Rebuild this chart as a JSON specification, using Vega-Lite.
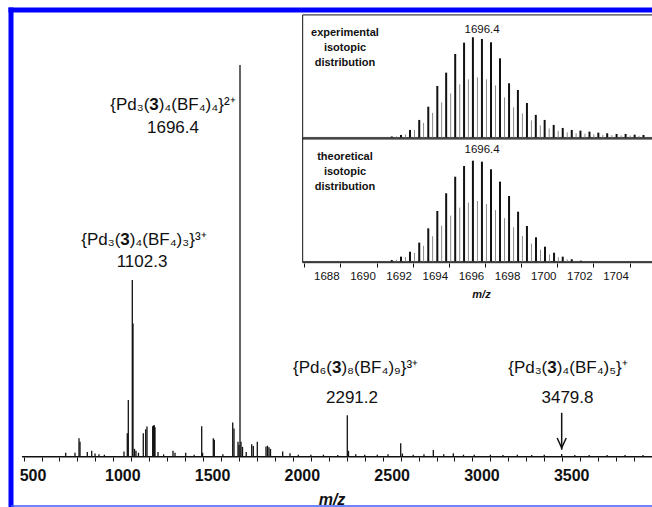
{
  "$schema": "https://vega.github.io/schema/vega-lite/v6.json",
  "width": 641,
  "height": 496,
  "padding": {"left": 11, "top": 10, "right": 0, "bottom": 1},
  "autosize": {"type": "none"},
  "background": "white",
  "config": {"view": {"stroke": null}, "axisY": {"disable": true}, "axis": {"labelOverlap": false}, "font": "Liberation Sans"},
  "data": {"values": [{}]},
  "datasets": {
    "spectrum": [
      {"mz": 684.6, "intensity": 1.0}, {"mz": 736.4, "intensity": 1.0}, {"mz": 758.7, "intensity": 4.7}, {"mz": 764.3, "intensity": 3.8},
      {"mz": 805, "intensity": 1.2}, {"mz": 829.5, "intensity": 1.5}, {"mz": 848, "intensity": 0.8}, {"mz": 870, "intensity": 0.6},
      {"mz": 900, "intensity": 0.5}, {"mz": 1009.4, "intensity": 1.3}, {"mz": 1027.7, "intensity": 6}, {"mz": 1033.3, "intensity": 14.5},
      {"mz": 1055.6, "intensity": 45.1}, {"mz": 1059.5, "intensity": 34}, {"mz": 1067.8, "intensity": 2}, {"mz": 1076, "intensity": 1.5},
      {"mz": 1090, "intensity": 1.0}, {"mz": 1116.8, "intensity": 6}, {"mz": 1130.2, "intensity": 7}, {"mz": 1137.4, "intensity": 7.7},
      {"mz": 1169.2, "intensity": 7.8}, {"mz": 1173.7, "intensity": 8}, {"mz": 1178.1, "intensity": 8}, {"mz": 1182, "intensity": 7.5},
      {"mz": 1198.7, "intensity": 1.2}, {"mz": 1230, "intensity": 0.6}, {"mz": 1282.3, "intensity": 1.5}, {"mz": 1293.4, "intensity": 1},
      {"mz": 1353, "intensity": 1}, {"mz": 1400, "intensity": 0.5}, {"mz": 1442.1, "intensity": 7.8}, {"mz": 1447, "intensity": 1.0},
      {"mz": 1506.7, "intensity": 4.7}, {"mz": 1512.3, "intensity": 4.3}, {"mz": 1560, "intensity": 0.6}, {"mz": 1614.8, "intensity": 8.7},
      {"mz": 1622, "intensity": 7.2}, {"mz": 1644.3, "intensity": 3.8}, {"mz": 1649.9, "intensity": 3}, {"mz": 1655.4, "intensity": 100},
      {"mz": 1661, "intensity": 3.8}, {"mz": 1669.3, "intensity": 2.5}, {"mz": 1690, "intensity": 1.2}, {"mz": 1720.6, "intensity": 3.2},
      {"mz": 1729.5, "intensity": 2.7}, {"mz": 1751.8, "intensity": 3.8}, {"mz": 1800.2, "intensity": 2.6}, {"mz": 1808.6, "intensity": 2.8},
      {"mz": 1816.9, "intensity": 2.4}, {"mz": 1825.3, "intensity": 2}, {"mz": 1893.2, "intensity": 1.3}, {"mz": 1933.9, "intensity": 0.9},
      {"mz": 1980, "intensity": 0.5}, {"mz": 2050, "intensity": 0.5}, {"mz": 2120, "intensity": 0.5}, {"mz": 2200, "intensity": 0.4},
      {"mz": 2253, "intensity": 10.6}, {"mz": 2259.7, "intensity": 1.5}, {"mz": 2300, "intensity": 0.6}, {"mz": 2350, "intensity": 0.5},
      {"mz": 2420, "intensity": 0.5}, {"mz": 2480, "intensity": 0.6}, {"mz": 2550.4, "intensity": 3.4}, {"mz": 2560, "intensity": 0.8},
      {"mz": 2620, "intensity": 0.5}, {"mz": 2680, "intensity": 0.6}, {"mz": 2732, "intensity": 1.7}, {"mz": 2790, "intensity": 0.6},
      {"mz": 2843.4, "intensity": 0.9}, {"mz": 2900, "intensity": 0.5}, {"mz": 2960, "intensity": 0.5}, {"mz": 3050, "intensity": 0.5},
      {"mz": 3120, "intensity": 0.4}, {"mz": 3200, "intensity": 0.5}, {"mz": 3280, "intensity": 0.4}, {"mz": 3350, "intensity": 0.5},
      {"mz": 3447, "intensity": 0.7}, {"mz": 3520, "intensity": 0.4}, {"mz": 3600, "intensity": 0.4}, {"mz": 3700, "intensity": 0.4},
      {"mz": 3800, "intensity": 0.4}, {"mz": 3900, "intensity": 0.4}
    ],
    "inset": [
      {"panel": "experimental", "set": "A", "m": 1691.84, "h": 1.0}, {"panel": "experimental", "set": "A", "m": 1692.35, "h": 2.5},
      {"panel": "experimental", "set": "A", "m": 1692.85, "h": 7.5}, {"panel": "experimental", "set": "A", "m": 1693.36, "h": 17.5},
      {"panel": "experimental", "set": "A", "m": 1693.86, "h": 30.7}, {"panel": "experimental", "set": "A", "m": 1694.36, "h": 51.4},
      {"panel": "experimental", "set": "A", "m": 1694.85, "h": 64.7}, {"panel": "experimental", "set": "A", "m": 1695.35, "h": 83.3},
      {"panel": "experimental", "set": "A", "m": 1695.84, "h": 94.6}, {"panel": "experimental", "set": "A", "m": 1696.33, "h": 100},
      {"panel": "experimental", "set": "A", "m": 1696.83, "h": 98.3}, {"panel": "experimental", "set": "A", "m": 1697.33, "h": 95},
      {"panel": "experimental", "set": "A", "m": 1697.83, "h": 79}, {"panel": "experimental", "set": "A", "m": 1698.33, "h": 54.1},
      {"panel": "experimental", "set": "A", "m": 1698.82, "h": 47.4}, {"panel": "experimental", "set": "A", "m": 1699.32, "h": 34.4},
      {"panel": "experimental", "set": "A", "m": 1699.81, "h": 22.5}, {"panel": "experimental", "set": "A", "m": 1700.3, "h": 17.5},
      {"panel": "experimental", "set": "A", "m": 1700.8, "h": 12.5}, {"panel": "experimental", "set": "A", "m": 1701.3, "h": 9.5},
      {"panel": "experimental", "set": "A", "m": 1701.8, "h": 7.5}, {"panel": "experimental", "set": "A", "m": 1702.28, "h": 6.8},
      {"panel": "experimental", "set": "A", "m": 1702.78, "h": 5.8}, {"panel": "experimental", "set": "A", "m": 1703.27, "h": 4.8},
      {"panel": "experimental", "set": "A", "m": 1703.76, "h": 4.2}, {"panel": "experimental", "set": "A", "m": 1704.28, "h": 3.5},
      {"panel": "experimental", "set": "A", "m": 1704.78, "h": 3.5}, {"panel": "experimental", "set": "A", "m": 1705.28, "h": 2.8},
      {"panel": "experimental", "set": "A", "m": 1705.77, "h": 2.5},
      {"panel": "experimental", "set": "B", "m": 1692.1, "h": 1.0}, {"panel": "experimental", "set": "B", "m": 1692.6, "h": 3.0},
      {"panel": "experimental", "set": "B", "m": 1693.1, "h": 7.5}, {"panel": "experimental", "set": "B", "m": 1693.6, "h": 14.5},
      {"panel": "experimental", "set": "B", "m": 1694.1, "h": 24.5}, {"panel": "experimental", "set": "B", "m": 1694.6, "h": 35},
      {"panel": "experimental", "set": "B", "m": 1695.1, "h": 44}, {"panel": "experimental", "set": "B", "m": 1695.6, "h": 53},
      {"panel": "experimental", "set": "B", "m": 1696.08, "h": 58}, {"panel": "experimental", "set": "B", "m": 1696.58, "h": 60},
      {"panel": "experimental", "set": "B", "m": 1697.08, "h": 58}, {"panel": "experimental", "set": "B", "m": 1697.58, "h": 52},
      {"panel": "experimental", "set": "B", "m": 1698.08, "h": 40}, {"panel": "experimental", "set": "B", "m": 1698.58, "h": 30},
      {"panel": "experimental", "set": "B", "m": 1699.07, "h": 24}, {"panel": "experimental", "set": "B", "m": 1699.57, "h": 17},
      {"panel": "experimental", "set": "B", "m": 1700.06, "h": 12}, {"panel": "experimental", "set": "B", "m": 1700.55, "h": 9},
      {"panel": "experimental", "set": "B", "m": 1701.05, "h": 6.6}, {"panel": "experimental", "set": "B", "m": 1701.55, "h": 5.1},
      {"panel": "experimental", "set": "B", "m": 1702.04, "h": 4.3}, {"panel": "experimental", "set": "B", "m": 1702.53, "h": 3.8},
      {"panel": "experimental", "set": "B", "m": 1703.02, "h": 3.2}, {"panel": "experimental", "set": "B", "m": 1703.52, "h": 2.7},
      {"panel": "experimental", "set": "B", "m": 1704.02, "h": 2.3}, {"panel": "experimental", "set": "B", "m": 1704.53, "h": 2.1},
      {"panel": "experimental", "set": "B", "m": 1705.03, "h": 1.9}, {"panel": "experimental", "set": "B", "m": 1705.52, "h": 1.6},
      {"panel": "theoretical", "set": "A", "m": 1691.84, "h": 1.5}, {"panel": "theoretical", "set": "A", "m": 1692.35, "h": 4.8},
      {"panel": "theoretical", "set": "A", "m": 1692.85, "h": 9.7}, {"panel": "theoretical", "set": "A", "m": 1693.36, "h": 18.7},
      {"panel": "theoretical", "set": "A", "m": 1693.86, "h": 32.9}, {"panel": "theoretical", "set": "A", "m": 1694.36, "h": 50.1},
      {"panel": "theoretical", "set": "A", "m": 1694.85, "h": 67.7}, {"panel": "theoretical", "set": "A", "m": 1695.35, "h": 84.1},
      {"panel": "theoretical", "set": "A", "m": 1695.84, "h": 94.7}, {"panel": "theoretical", "set": "A", "m": 1696.33, "h": 100},
      {"panel": "theoretical", "set": "A", "m": 1696.83, "h": 99}, {"panel": "theoretical", "set": "A", "m": 1697.33, "h": 91.5},
      {"panel": "theoretical", "set": "A", "m": 1697.83, "h": 79.2}, {"panel": "theoretical", "set": "A", "m": 1698.33, "h": 65},
      {"panel": "theoretical", "set": "A", "m": 1698.83, "h": 49.4}, {"panel": "theoretical", "set": "A", "m": 1699.32, "h": 35.2},
      {"panel": "theoretical", "set": "A", "m": 1699.82, "h": 24}, {"panel": "theoretical", "set": "A", "m": 1700.32, "h": 14.7},
      {"panel": "theoretical", "set": "A", "m": 1700.82, "h": 8.7}, {"panel": "theoretical", "set": "A", "m": 1701.3, "h": 4.8},
      {"panel": "theoretical", "set": "A", "m": 1701.8, "h": 2.2}, {"panel": "theoretical", "set": "A", "m": 1702.3, "h": 0.8},
      {"panel": "theoretical", "set": "B", "m": 1692.1, "h": 1.8}, {"panel": "theoretical", "set": "B", "m": 1692.6, "h": 4.3},
      {"panel": "theoretical", "set": "B", "m": 1693.1, "h": 8.5}, {"panel": "theoretical", "set": "B", "m": 1693.6, "h": 15.5},
      {"panel": "theoretical", "set": "B", "m": 1694.1, "h": 25}, {"panel": "theoretical", "set": "B", "m": 1694.6, "h": 35.5},
      {"panel": "theoretical", "set": "B", "m": 1695.1, "h": 45.5}, {"panel": "theoretical", "set": "B", "m": 1695.6, "h": 53.5},
      {"panel": "theoretical", "set": "B", "m": 1696.08, "h": 58.5}, {"panel": "theoretical", "set": "B", "m": 1696.58, "h": 60},
      {"panel": "theoretical", "set": "B", "m": 1697.08, "h": 57}, {"panel": "theoretical", "set": "B", "m": 1697.58, "h": 51},
      {"panel": "theoretical", "set": "B", "m": 1698.08, "h": 43}, {"panel": "theoretical", "set": "B", "m": 1698.58, "h": 34},
      {"panel": "theoretical", "set": "B", "m": 1699.07, "h": 25.4}, {"panel": "theoretical", "set": "B", "m": 1699.57, "h": 17.8},
      {"panel": "theoretical", "set": "B", "m": 1700.07, "h": 11.6}, {"panel": "theoretical", "set": "B", "m": 1700.57, "h": 7},
      {"panel": "theoretical", "set": "B", "m": 1701.06, "h": 4.1}, {"panel": "theoretical", "set": "B", "m": 1701.55, "h": 2.1}
    ]
  },
  "layer": [
    {
      "layer": [
        {
          "data": {"name": "spectrum"},
          "mark": {"type": "rule", "strokeWidth": 1.3, "color": "#111"},
          "encoding": {
            "x": {"field": "mz", "type": "quantitative",
              "scale": {"domain": [380, 3950], "nice": false, "zero": false},
              "axis": {"orient": "bottom", "offset": -49, "domain": false, "ticks": false, "tickSize": 0,
                "values": [500, 1000, 1500, 2000, 2500, 3000, 3500], "format": "d",
                "labelFont": "Liberation Sans", "labelFontWeight": "bold", "labelFontSize": 16,
                "labelColor": "#111", "labelPadding": 10, "labelOverlap": false, "labelFlush": false, "grid": false,
                "title": "m/z", "titleFont": "Liberation Sans", "titleFontStyle": "italic", "titleFontWeight": "bold",
                "titleFontSize": 16, "titleColor": "#111", "titlePadding": 8}},
            "y": {"field": "intensity", "type": "quantitative",
              "scale": {"domain": [-12.59, 114.04], "nice": false, "zero": false}},
            "y2": {"datum": 0}
          }
        },
        {"mark": {"type": "rule", "strokeWidth": 5, "color": "#0000ff", "strokeCap": "square"},
          "encoding": {"x": {"datum": 380}}},
        {"mark": {"type": "rule", "strokeWidth": 5, "color": "#0000ff", "strokeCap": "square"},
          "encoding": {"y": {"datum": 114.04}}},
        {"mark": {"type": "rule", "strokeWidth": 1.5, "color": "#3a5cff"},
          "encoding": {"y": {"datum": -12.59}}},

        {"mark": {"type": "text", "align": "right", "dx": -4.7, "baseline": "alphabetic", "fontSize": 17, "color": "#111"},
          "encoding": {"x": {"datum": 1176.4}, "y": {"datum": 88.5}, "text": {"value": "{Pd₃("}}},
        {"mark": {"type": "text", "align": "center", "baseline": "alphabetic", "fontSize": 17, "fontWeight": "bold", "color": "#111"},
          "encoding": {"x": {"datum": 1176.4}, "y": {"datum": 88.5}, "text": {"value": "3"}}},
        {"mark": {"type": "text", "align": "left", "dx": 4.7, "baseline": "alphabetic", "fontSize": 17, "color": "#111"},
          "encoding": {"x": {"datum": 1176.4}, "y": {"datum": 88.5}, "text": {"value": ")₄(BF₄)₄}²⁺"}}},
        {"mark": {"type": "text", "align": "center", "baseline": "alphabetic", "fontSize": 17, "color": "#111"},
          "encoding": {"x": {"datum": 1282.3}, "y": {"datum": 82.6}, "text": {"value": "1696.4"}}},

        {"mark": {"type": "text", "align": "right", "dx": -4.7, "baseline": "alphabetic", "fontSize": 17, "color": "#111"},
          "encoding": {"x": {"datum": 1014.9}, "y": {"datum": 54.0}, "text": {"value": "{Pd₃("}}},
        {"mark": {"type": "text", "align": "center", "baseline": "alphabetic", "fontSize": 17, "fontWeight": "bold", "color": "#111"},
          "encoding": {"x": {"datum": 1014.9}, "y": {"datum": 54.0}, "text": {"value": "3"}}},
        {"mark": {"type": "text", "align": "left", "dx": 4.7, "baseline": "alphabetic", "fontSize": 17, "color": "#111"},
          "encoding": {"x": {"datum": 1014.9}, "y": {"datum": 54.0}, "text": {"value": ")₄(BF₄)₃}³⁺"}}},
        {"mark": {"type": "text", "align": "center", "baseline": "alphabetic", "fontSize": 17, "color": "#111"},
          "encoding": {"x": {"datum": 1109.6}, "y": {"datum": 48.5}, "text": {"value": "1102.3"}}},

        {"mark": {"type": "text", "align": "right", "dx": -4.7, "baseline": "alphabetic", "fontSize": 17, "color": "#111"},
          "encoding": {"x": {"datum": 2194}, "y": {"datum": 21.4}, "text": {"value": "{Pd₆("}}},
        {"mark": {"type": "text", "align": "center", "baseline": "alphabetic", "fontSize": 17, "fontWeight": "bold", "color": "#111"},
          "encoding": {"x": {"datum": 2194}, "y": {"datum": 21.4}, "text": {"value": "3"}}},
        {"mark": {"type": "text", "align": "left", "dx": 4.7, "baseline": "alphabetic", "fontSize": 17, "color": "#111"},
          "encoding": {"x": {"datum": 2194}, "y": {"datum": 21.4}, "text": {"value": ")₈(BF₄)₉}³⁺"}}},
        {"mark": {"type": "text", "align": "center", "baseline": "alphabetic", "fontSize": 17, "color": "#111"},
          "encoding": {"x": {"datum": 2279.2}, "y": {"datum": 13.6}, "text": {"value": "2291.2"}}},

        {"mark": {"type": "text", "align": "right", "dx": -4.7, "baseline": "alphabetic", "fontSize": 17, "color": "#111"},
          "encoding": {"x": {"datum": 3393}, "y": {"datum": 21.4}, "text": {"value": "{Pd₃("}}},
        {"mark": {"type": "text", "align": "center", "baseline": "alphabetic", "fontSize": 17, "fontWeight": "bold", "color": "#111"},
          "encoding": {"x": {"datum": 3393}, "y": {"datum": 21.4}, "text": {"value": "3"}}},
        {"mark": {"type": "text", "align": "left", "dx": 4.7, "baseline": "alphabetic", "fontSize": 17, "color": "#111"},
          "encoding": {"x": {"datum": 3393}, "y": {"datum": 21.4}, "text": {"value": ")₄(BF₄)₅}⁺"}}},
        {"mark": {"type": "text", "align": "center", "baseline": "alphabetic", "fontSize": 17, "color": "#111"},
          "encoding": {"x": {"datum": 3479.4}, "y": {"datum": 13.6}, "text": {"value": "3479.8"}}},

        {"mark": {"type": "rule", "strokeWidth": 1.5, "color": "#111"},
          "encoding": {"x": {"datum": 3447}, "y": {"datum": 11.2}, "y2": {"datum": 1.8}}},
        {"mark": {"type": "point", "shape": "M-0.9,-1L0,1L0.9,-1", "size": 100, "filled": false, "strokeWidth": 1.5, "color": "#111", "opacity": 1},
          "encoding": {"x": {"datum": 3447}, "y": {"datum": 3.5}}}
      ]
    },
    {
      "layer": [
        {"mark": {"type": "rule", "strokeWidth": 1.5, "color": "#111"},
          "encoding": {
            "x": {"datum": 441, "scale": {"domain": [380, 3950], "nice": false, "zero": false},
              "axis": {"orient": "bottom", "offset": -49, "domain": false, "labels": false, "title": null,
                "values": [450,550,650,750,850,950,1050,1150,1250,1350,1450,1550,1650,1750,1850,1950,2050,2150,2250,2350,2450,2550,2650,2750,2850,2950,3050,3150,3250,3350,3450,3550,3650,3750,3850,3950],
                "tickSize": 4, "tickWidth": 1, "tickColor": "#111", "grid": false}},
            "x2": {"datum": 3950},
            "y": {"datum": 0, "scale": {"domain": [-12.59, 114.04], "nice": false, "zero": false}}}}
      ]
    },
    {
      "layer": [
        {"mark": {"type": "rect", "fill": "white", "stroke": "#111", "strokeWidth": 1, "clip": true},
          "encoding": {
            "x": {"datum": 1686.91, "scale": {"domain": [1670.77, 1706.24], "nice": false, "zero": false},
              "axis": {"orient": "bottom", "offset": -243, "domain": false, "labels": false, "title": null,
                "values": [1687,1688,1689,1690,1691,1692,1693,1694,1695,1696,1697,1698,1699,1700,1701,1702,1703,1704,1705,1706],
                "tickSize": 4, "tickWidth": 1, "tickColor": "#111", "grid": false}},
            "x2": {"datum": 1712},
            "y": {"datum": -1.5, "scale": {"domain": [-367.8, 127.2], "nice": false, "zero": false}},
            "y2": {"datum": 122.3}}},
        {"mark": {"type": "rule", "strokeWidth": 1, "color": "#444", "clip": true},
          "encoding": {"x": {"datum": 1686.91}, "x2": {"datum": 1712}, "y": {"datum": 0}}},
        {"data": {"name": "inset"},
          "transform": [{"filter": "datum.panel == 'experimental' && datum.set == 'B'"}],
          "mark": {"type": "rule", "strokeWidth": 1, "color": "#8a8a8a"},
          "encoding": {"x": {"field": "m", "type": "quantitative"}, "y": {"field": "h", "type": "quantitative"}, "y2": {"datum": 0}}},
        {"data": {"name": "inset"},
          "transform": [{"filter": "datum.panel == 'experimental' && datum.set == 'A'"}],
          "mark": {"type": "rule", "strokeWidth": 2, "color": "#111"},
          "encoding": {"x": {"field": "m", "type": "quantitative"}, "y": {"field": "h", "type": "quantitative"}, "y2": {"datum": 0}}},
        {"mark": {"type": "text", "align": "center", "baseline": "top", "fontSize": 11, "fontWeight": "bold", "lineHeight": 15, "color": "#111"},
          "encoding": {"x": {"datum": 1689.25}, "y": {"datum": 110.3}, "text": {"value": ["experimental", "isotopic", "distribution"]}}},
        {"mark": {"type": "text", "align": "center", "baseline": "alphabetic", "fontSize": 11.5, "color": "#111"},
          "encoding": {"x": {"datum": 1696.84}, "y": {"datum": 104.3}, "text": {"value": "1696.4"}}}
      ]
    },
    {
      "layer": [
        {"mark": {"type": "rect", "fill": "white", "stroke": "#111", "strokeWidth": 1, "clip": true},
          "encoding": {
            "x": {"datum": 1686.91, "scale": {"domain": [1670.77, 1706.24], "nice": false, "zero": false},
              "axis": {"orient": "bottom", "offset": -243, "domain": false, "ticks": false, "tickSize": 0,
                "values": [1688, 1690, 1692, 1694, 1696, 1698, 1700, 1702, 1704], "format": "d",
                "labelOffset": 4, "labelFont": "Liberation Sans", "labelFontSize": 11.5, "labelColor": "#111",
                "labelPadding": 7, "labelOverlap": false, "labelFlush": false, "grid": false,
                "title": "m/z", "titleFont": "Liberation Sans", "titleFontStyle": "italic", "titleFontWeight": "bold",
                "titleFontSize": 11, "titleColor": "#111", "titleX": 470, "titleY": 25, "titleBaseline": "top", "titleAlign": "center"}},
            "x2": {"datum": 1712},
            "y": {"datum": -1.2, "scale": {"domain": [-242.6, 249.5], "nice": false, "zero": false}},
            "y2": {"datum": 121.5}}},
        {"mark": {"type": "rule", "strokeWidth": 1, "color": "#444", "clip": true},
          "encoding": {"x": {"datum": 1686.91}, "x2": {"datum": 1712}, "y": {"datum": 0}}},
        {"data": {"name": "inset"},
          "transform": [{"filter": "datum.panel == 'theoretical' && datum.set == 'B'"}],
          "mark": {"type": "rule", "strokeWidth": 1, "color": "#8a8a8a"},
          "encoding": {"x": {"field": "m", "type": "quantitative"}, "y": {"field": "h", "type": "quantitative"}, "y2": {"datum": 0}}},
        {"data": {"name": "inset"},
          "transform": [{"filter": "datum.panel == 'theoretical' && datum.set == 'A'"}],
          "mark": {"type": "rule", "strokeWidth": 2, "color": "#111"},
          "encoding": {"x": {"field": "m", "type": "quantitative"}, "y": {"field": "h", "type": "quantitative"}, "y2": {"datum": 0}}},
        {"mark": {"type": "text", "align": "center", "baseline": "top", "fontSize": 11, "fontWeight": "bold", "lineHeight": 15, "color": "#111"},
          "encoding": {"x": {"datum": 1689.25}, "y": {"datum": 109.6}, "text": {"value": ["theoretical", "isotopic", "distribution"]}}},
        {"mark": {"type": "text", "align": "center", "baseline": "alphabetic", "fontSize": 11.5, "color": "#111"},
          "encoding": {"x": {"datum": 1696.84}, "y": {"datum": 107.6}, "text": {"value": "1696.4"}}}
      ]
    }
  ],
  "resolve": {"scale": {"x": "independent", "y": "independent"}, "axis": {"x": "independent", "y": "independent"}}
}
